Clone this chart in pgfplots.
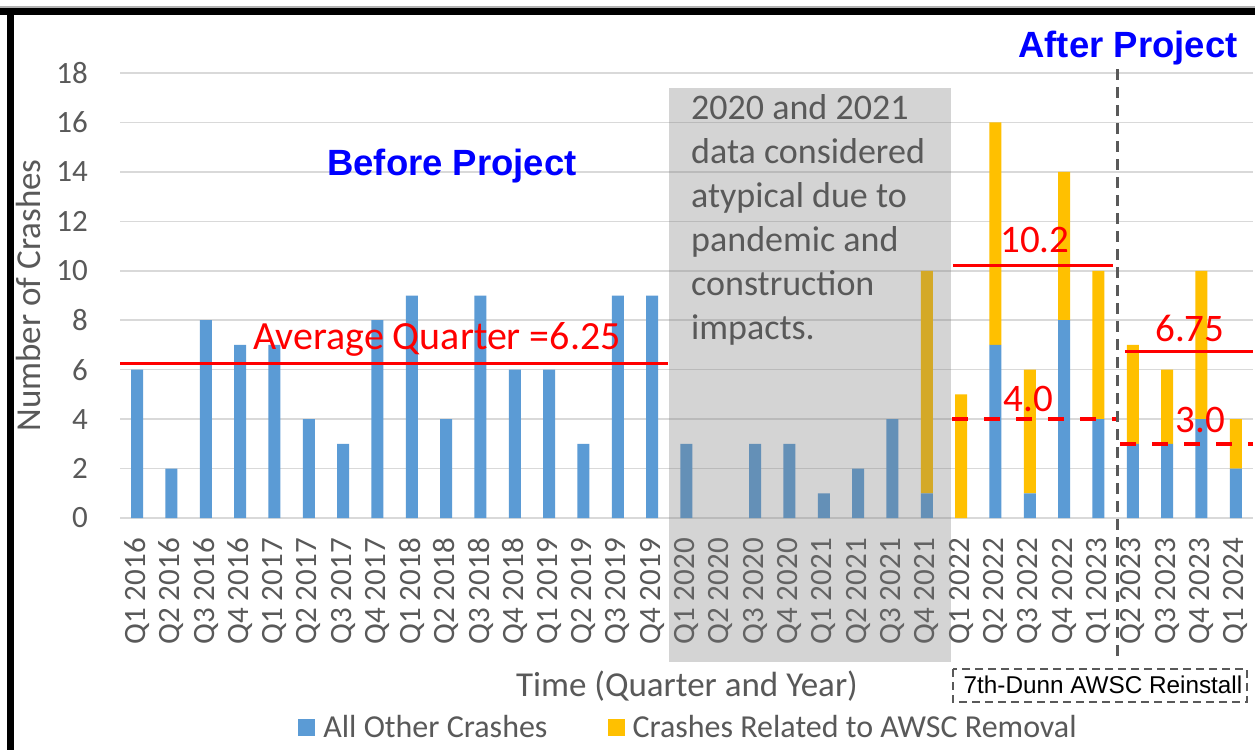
\documentclass[border=0pt]{standalone}
\usepackage{pgfplots}
\pgfplotsset{compat=1.18}
\usepackage{pgfplotstable}
\usepackage{fontspec}
\setmainfont{Carlito}
\newfontfamily\arialfont{Liberation Sans}
\definecolor{cblue}{HTML}{5B9BD5}
\definecolor{corange}{HTML}{FFC000}
\definecolor{tgray}{HTML}{595959}
\definecolor{ggray}{HTML}{D9D9D9}
\definecolor{pblue}{HTML}{0000FF}
\definecolor{ovgray}{HTML}{7A7A7A}
\tikzset{rtxt/.style={text=red, font=\fontsize{39}{44}\selectfont, inner sep=0pt}}

\pgfplotstableread{
idx blue orange
0 6 0
1 2 0
2 8 0
3 7 0
4 7 0
5 4 0
6 3 0
7 8 0
8 9 0
9 4 0
10 9 0
11 6 0
12 6 0
13 3 0
14 9 0
15 9 0
16 3 0
17 0 0
18 3 0
19 3 0
20 1 0
21 2 0
22 4 0
23 1 9
24 0 5
25 7 9
26 1 5
27 8 6
28 4 6
29 3 4
30 3 3
31 4 6
32 2 2
}\crashdata

\begin{document}
\begin{tikzpicture}
\fill[white] (0pt,0pt) rectangle (1255pt,-750pt);
\path[use as bounding box] (0pt,0pt) rectangle (1255pt,-750pt);
\begin{axis}[
  at={(120pt,-518pt)}, anchor=south west,
  scale only axis, width=1133pt, height=445pt,
  xmin=-0.5, xmax=32.5, ymin=0, ymax=18,
  ybar stacked, bar width=12pt,
  ytick={0,2,...,18},
  xtick={0,...,32},
  xticklabels={Q1 2016,Q2 2016,Q3 2016,Q4 2016,Q1 2017,Q2 2017,Q3 2017,Q4 2017,Q1 2018,Q2 2018,Q3 2018,Q4 2018,Q1 2019,Q2 2019,Q3 2019,Q4 2019,Q1 2020,Q2 2020,Q3 2020,Q4 2020,Q1 2021,Q2 2021,Q3 2021,Q4 2021,Q1 2022,Q2 2022,Q3 2022,Q4 2022,Q1 2023,Q2 2023,Q3 2023,Q4 2023,Q1 2024},
  ymajorgrids, grid style={ggray, line width=1.5pt},
  axis line style={draw=none},
  major tick length=0pt,
  /pgf/number format/assume math mode=true,
  tick label style={font=\fontsize{31}{36}\selectfont, text=tgray},
  xticklabel style={rotate=90, anchor=east, inner sep=0pt},
  yticklabel style={anchor=east, inner sep=0pt},
  xticklabel shift=20pt,
  yticklabel shift=32pt,
  xlabel={Time (Quarter and Year)},
  ylabel={Number of Crashes},
  label style={font=\fontsize{35}{40}\selectfont, text=tgray},
  xlabel style={at={(axis description cs:0.5004,-0.40)}, anchor=base},
  ylabel style={at={(axis description cs:-0.0812,0.5)}, rotate=0, anchor=center},
  clip=false,
  legend columns=2,
  legend style={at={(axis description cs:0.5009,-0.4708)}, anchor=center, draw=none, fill=none,
    font=\fontsize{32}{36}\selectfont, text=tgray,
    nodes={inner sep=0pt},
    /tikz/every odd column/.append style={column sep=8pt},
    /tikz/every even column/.append style={column sep=60pt}},
  legend image code/.code={\fill[#1] (0pt,-8.5pt) rectangle (17pt,8.5pt);},
]
\addplot[fill=cblue, draw=none] table[x=idx, y=blue] {\crashdata};
\addlegendentry{All Other Crashes}
\addplot[fill=corange, draw=none] table[x=idx, y=orange] {\crashdata};
\addlegendentry{Crashes Related to AWSC Removal}

% averages (drawn on top after the axis)
\coordinate (avA) at (axis cs:-0.5,6.25);   \coordinate (avB) at (axis cs:15.46,6.25);
\coordinate (p1A) at (axis cs:23.76,10.2);  \coordinate (p1B) at (axis cs:28.42,10.2);
\coordinate (p2A) at (axis cs:23.73,4);     \coordinate (p2B) at (axis cs:28.54,4);
\coordinate (q1A) at (axis cs:28.77,6.75);  \coordinate (q1B) at (axis cs:32.5,6.75);
\coordinate (q2A) at (axis cs:28.63,3);     \coordinate (q2B) at (axis cs:32.5,3);
\coordinate (tav) at (axis cs:3.374,6.796);
\coordinate (tp1) at (axis cs:26.15,10.72);
\coordinate (tp2) at (axis cs:25.95,4.29);
\coordinate (tq1) at (axis cs:30.66,7.12);
\coordinate (tq2) at (axis cs:30.96,3.44);
\end{axis}

\draw[red, line width=3pt] (avA) -- (avB);
\draw[red, line width=3pt] (p1A) -- (p1B);
\draw[red, line width=4pt, dash pattern=on 16pt off 16pt] (p2A) -- (p2B);
\draw[red, line width=3pt] (q1A) -- (q1B);
\draw[red, line width=4pt, dash pattern=on 16pt off 16pt] (q2A) -- (q2B);
\node[rtxt, anchor=base west, font=\fontsize{40}{44}\selectfont] at (tav) {Average Quarter =6.25};
\node[rtxt, anchor=base] at (tp1) {10.2};
\node[rtxt, anchor=base] at (tp2) {4.0};
\node[rtxt, anchor=base] at (tq1) {6.75};
\node[rtxt, anchor=base] at (tq2) {3.0};

% shaded atypical period
\fill[ovgray, fill opacity=0.32] (669pt,-88pt) rectangle (951pt,-662pt);
\begin{scope}[every node/.style={anchor=base west, inner sep=0pt, text=tgray, font=\fontsize{36}{44}\selectfont}]
\node at (691pt,-119pt) {2020 and 2021};
\node at (691pt,-163pt) {data considered};
\node at (691pt,-207pt) {atypical due to};
\node at (691pt,-251pt) {pandemic and};
\node at (691pt,-295pt) {construction};
\node at (691pt,-339pt) {impacts.};
\end{scope}

% before / after
\node[anchor=base, inner sep=0pt, text=pblue, font=\arialfont\bfseries\fontsize{36.5}{40}\selectfont] at (452pt,-175pt) {Before Project};
\node[anchor=base, inner sep=0pt, text=pblue, font=\arialfont\bfseries\fontsize{36.5}{40}\selectfont] at (1128pt,-57pt) {After Project};
\draw[tgray, line width=3pt, dash pattern=on 11pt off 7pt] (1117pt,-69pt) -- (1117pt,-663pt);

% reinstall box
\draw[tgray, line width=2pt, dash pattern=on 8pt off 5pt] (953pt,-669pt) rectangle (1247pt,-702pt);
\node[anchor=base, inner sep=0pt, text=black, font=\arialfont\fontsize{24.3}{28}\selectfont] at (1103pt,-693pt) {7th-Dunn AWSC Reinstall};

% frame
\fill[gray!60] (0pt,-6pt) rectangle (1255pt,-8pt);
\fill[black] (0pt,-8pt) rectangle (1255pt,-15pt);
\fill[black] (7pt,-8pt) rectangle (14pt,-750pt);
\end{tikzpicture}
\end{document}
